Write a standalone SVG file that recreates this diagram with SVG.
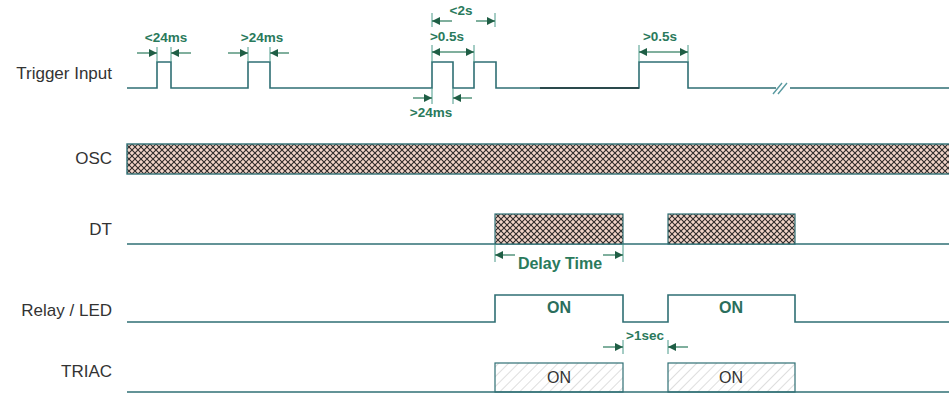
<svg xmlns="http://www.w3.org/2000/svg" width="949" height="393" viewBox="0 0 949 393">
<style>
.lbl{font-family:"Liberation Sans",Arial,sans-serif;font-size:17px;fill:#333;text-anchor:end}
.ann{font-family:"Liberation Sans",Arial,sans-serif;font-size:13.5px;font-weight:bold;fill:#2a7a5c;text-anchor:middle}
.on{font-family:"Liberation Sans",Arial,sans-serif;font-size:16px;font-weight:bold;fill:#2a6e5c;text-anchor:middle}
.on2{font-family:"Liberation Sans",Arial,sans-serif;font-size:16px;fill:#333;text-anchor:middle}
.sig{fill:none;stroke:#2f6f74;stroke-width:1.6}
.arr{stroke:#2a7a5c;stroke-width:1.2;fill:none}
.tick{stroke:#4a9a8a;stroke-width:1}
.head{fill:#1f5e45}
</style>
<defs>
<pattern id="xh" patternUnits="userSpaceOnUse" width="6" height="6">
<rect width="6" height="6" fill="#f2d4c8"/>
<path d="M0,0L6,6M6,0L0,6" stroke="#2e2a2a" stroke-width="1.1"/>
</pattern>
<pattern id="dh" patternUnits="userSpaceOnUse" width="7" height="7" patternTransform="rotate(45)">
<rect width="7" height="7" fill="#fff"/>
<line x1="0" y1="0" x2="0" y2="7" stroke="#c8c8c8" stroke-width="1.2"/>
</pattern>
<marker id="ah" viewBox="0 0 10 10" refX="10" refY="5" markerWidth="11" markerHeight="8" markerUnits="userSpaceOnUse" orient="auto">
<path d="M0,0L10,5L0,10Z" class="head"/>
</marker>
</defs>

<g id="labels">
<text class="lbl" x="112" y="79">Trigger Input</text>
<text class="lbl" x="112" y="164">OSC</text>
<text class="lbl" x="112" y="235">DT</text>
<text class="lbl" x="112" y="316">Relay / LED</text>
<text class="lbl" x="112" y="377">TRIAC</text>
</g>

<g id="trigger">
<path class="sig" d="M127,88H157V62H171V88H248V62H270V88H432V62H453V88H474V62H496V88H639V62H688V88H949"/>
<line x1="540" y1="88" x2="639" y2="88" stroke="#2a4a4c" stroke-width="2"/>
<rect x="776" y="82" width="14" height="12" fill="#fff"/>
<path d="M773,94L782,83M778,94L787,83" stroke="#5a9aa0" stroke-width="1.4"/>
</g>

<g id="osc">
<rect x="127" y="144" width="823" height="30" fill="url(#xh)" stroke="#2f6f74" stroke-width="1.4"/>
</g>

<g id="dt">
<line class="sig" x1="127" y1="244" x2="949" y2="244"/>
<rect x="495" y="214" width="128" height="30" fill="url(#xh)" stroke="#2f6f74" stroke-width="1.2"/>
<rect x="668" y="214" width="127" height="30" fill="url(#xh)" stroke="#2f6f74" stroke-width="1.2"/>
</g>

<g id="relay">
<path class="sig" d="M127,322H495V295H623V322H668V295H795V322H949"/>
<text class="on" x="559" y="313">ON</text>
<text class="on" x="731" y="313">ON</text>
</g>

<g id="triac">
<rect x="495" y="363" width="128" height="29" fill="url(#dh)" stroke="#2f6f74" stroke-width="1.2"/>
<rect x="668" y="363" width="127" height="29" fill="url(#dh)" stroke="#2f6f74" stroke-width="1.2"/>
<line x1="127" y1="392" x2="949" y2="392" stroke="#2f6f74" stroke-width="1.6"/>
<text class="on2" x="559" y="383">ON</text>
<text class="on2" x="731" y="383">ON</text>
</g>

<g id="connectors">
<line class="tick" x1="157" y1="47" x2="157" y2="62"/>
<line class="tick" x1="171" y1="47" x2="171" y2="62"/>
<line class="arr" x1="137" y1="53" x2="157" y2="53" marker-end="url(#ah)"/>
<line class="arr" x1="191" y1="53" x2="171" y2="53" marker-end="url(#ah)"/>
<line class="tick" x1="248" y1="47" x2="248" y2="62"/>
<line class="tick" x1="270" y1="47" x2="270" y2="62"/>
<line class="arr" x1="228" y1="53" x2="248" y2="53" marker-end="url(#ah)"/>
<line class="arr" x1="289" y1="53" x2="270" y2="53" marker-end="url(#ah)"/>
<line class="tick" x1="432" y1="13" x2="432" y2="27"/>
<line class="tick" x1="495" y1="13" x2="495" y2="27"/>
<line class="arr" x1="452" y1="21" x2="432" y2="21" marker-end="url(#ah)"/>
<line class="arr" x1="476" y1="21" x2="495" y2="21" marker-end="url(#ah)"/>
<line class="tick" x1="432" y1="45" x2="432" y2="62"/>
<line class="tick" x1="474" y1="45" x2="474" y2="62"/>
<line class="arr" x1="453" y1="52" x2="432" y2="52" marker-end="url(#ah)"/>
<line class="arr" x1="453" y1="52" x2="474" y2="52" marker-end="url(#ah)"/>
<line class="tick" x1="432" y1="88" x2="432" y2="104"/>
<line class="tick" x1="453" y1="88" x2="453" y2="104"/>
<line class="arr" x1="413" y1="98" x2="432" y2="98" marker-end="url(#ah)"/>
<line class="arr" x1="472" y1="98" x2="453" y2="98" marker-end="url(#ah)"/>
<line class="tick" x1="639" y1="45" x2="639" y2="62"/>
<line class="tick" x1="688" y1="45" x2="688" y2="62"/>
<line class="arr" x1="663" y1="52" x2="639" y2="52" marker-end="url(#ah)"/>
<line class="arr" x1="663" y1="52" x2="688" y2="52" marker-end="url(#ah)"/>
<line class="tick" x1="495" y1="244" x2="495" y2="262"/>
<line class="tick" x1="623" y1="244" x2="623" y2="262"/>
<line class="arr" x1="515" y1="255" x2="495" y2="255" marker-end="url(#ah)"/>
<line class="arr" x1="603" y1="255" x2="623" y2="255" marker-end="url(#ah)"/>
<line class="tick" x1="623" y1="340" x2="623" y2="354"/>
<line class="tick" x1="668" y1="340" x2="668" y2="354"/>
<line class="arr" x1="603" y1="347" x2="623" y2="347" marker-end="url(#ah)"/>
<line class="arr" x1="688" y1="347" x2="668" y2="347" marker-end="url(#ah)"/>
</g>

<g id="annotations">
<text class="ann" x="166" y="42">&lt;24ms</text>
<text class="ann" x="262" y="42">&gt;24ms</text>
<text class="ann" x="461" y="15">&lt;2s</text>
<text class="ann" x="447" y="41">&gt;0.5s</text>
<text class="ann" x="431" y="117">&gt;24ms</text>
<text class="ann" x="660" y="41">&gt;0.5s</text>
<text class="ann" x="560" y="269" style="font-size:16px">Delay Time</text>
<text class="ann" x="645" y="340">&gt;1sec</text>
</g>
</svg>
